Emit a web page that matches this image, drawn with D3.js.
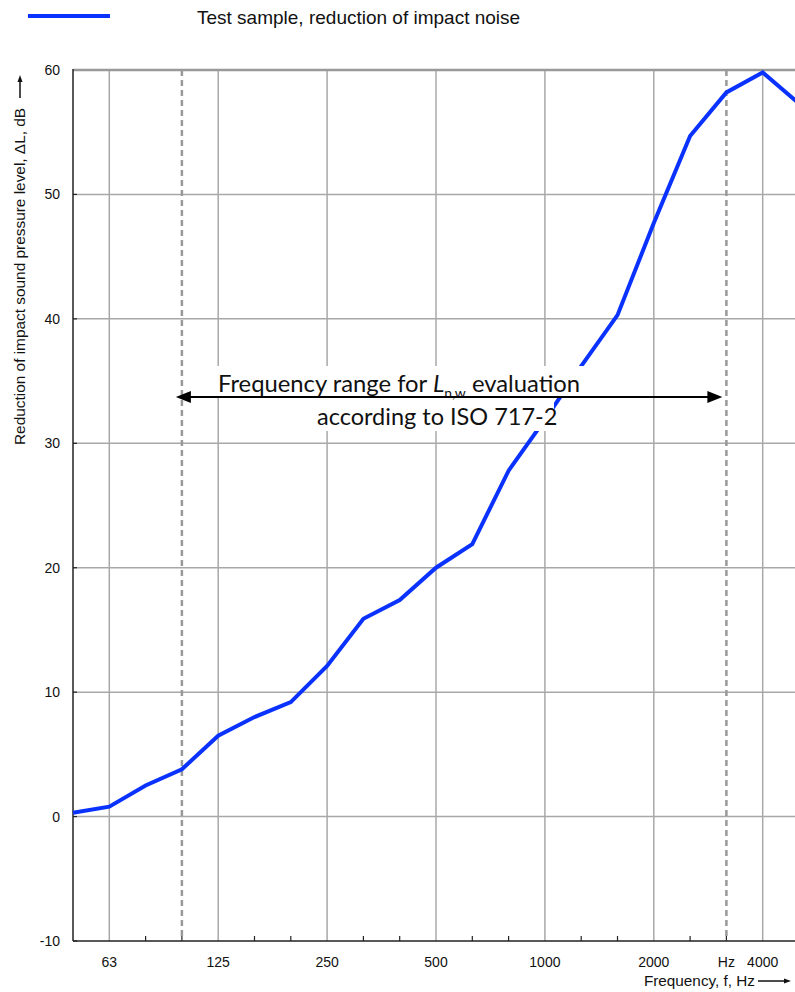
<!DOCTYPE html>
<html>
<head>
<meta charset="utf-8">
<script src="https://cdn.jsdelivr.net/npm/d3@7"></script>
<style>
  body { margin: 0; background: #fff; }
  svg { display: block; }
  text { font-family: Arial, "Liberation Sans", sans-serif; fill: #111; }
</style>
</head>
<body>
<div id="chart"></div>
<script>
// third-octave bands, Hz
var bands = ["50", "63", "80", "100", "125", "160", "200", "250", "315", "400", "500",
             "630", "800", "1000", "1250", "1600", "2000", "2500", "3150", "4000", "5000"];
// reduction of impact sound pressure level, dB
var deltaL = [0.3, 0.8, 2.5, 3.8, 6.5, 8.0, 9.2, 12.1, 15.9, 17.4, 20.0,
              21.9, 27.8, 31.9, 36.2, 40.3, 47.7, 54.7, 58.2, 59.8, 57.3];
var gridBands = ["63", "125", "250", "500", "1000", "2000", "4000"];
var tickLabels = { "63": "63", "125": "125", "250": "250", "500": "500", "1000": "1000",
                   "2000": "2000", "3150": "Hz", "4000": "4000" };
var yTicks = [-10, 0, 10, 20, 30, 40, 50, 60];
var rangeBands = ["100", "3150"]; // ISO 717-2 evaluation range

var svgWidth = 795;
var svgHeight = 992;

var margin = { top: 70, left: 73, bottom: 51 };
var plotBottom = svgHeight - margin.bottom;

var svg = d3.select("#chart")
  .append("svg")
  .attr("width", svgWidth)
  .attr("height", svgHeight);

var x = d3.scalePoint()
  .domain(bands)
  .range([margin.left, 799]);

var y = d3.scaleLinear()
  .domain([-10, 60])
  .range([plotBottom, margin.top]);

// horizontal grid
svg.append("g")
  .selectAll("line")
  .data(yTicks.filter(d => d > -10 && d < 60))
  .enter().append("line")
  .attr("x1", margin.left).attr("x2", svgWidth)
  .attr("y1", d => y(d)).attr("y2", d => y(d))
  .attr("stroke", "#a8a8a8")
  .attr("stroke-width", 1.5);

// vertical grid
svg.append("g")
  .selectAll("line")
  .data(gridBands)
  .enter().append("line")
  .attr("x1", d => x(d)).attr("x2", d => x(d))
  .attr("y1", margin.top).attr("y2", plotBottom)
  .attr("stroke", "#a8a8a8")
  .attr("stroke-width", 1.5);

// minor ticks at the bottom
svg.append("g")
  .selectAll("line")
  .data(bands.filter(d => gridBands.indexOf(d) < 0 && d !== "50"))
  .enter().append("line")
  .attr("x1", d => x(d)).attr("x2", d => x(d))
  .attr("y1", plotBottom - 5).attr("y2", plotBottom)
  .attr("stroke", "#222")
  .attr("stroke-width", 1.2);

// small y ticks inside
svg.append("g")
  .selectAll("line")
  .data(yTicks)
  .enter().append("line")
  .attr("x1", margin.left).attr("x2", margin.left + 4)
  .attr("y1", d => y(d)).attr("y2", d => y(d))
  .attr("stroke", "#222")
  .attr("stroke-width", 1.2);

// dashed range limits
svg.append("g")
  .selectAll("line")
  .data(rangeBands)
  .enter().append("line")
  .attr("x1", d => x(d)).attr("x2", d => x(d))
  .attr("y1", margin.top).attr("y2", plotBottom)
  .attr("stroke", "#999")
  .attr("stroke-width", 2.5)
  .attr("stroke-dasharray", "6,4");

// frame
svg.append("line")
  .attr("x1", margin.left).attr("x2", svgWidth)
  .attr("y1", margin.top).attr("y2", margin.top)
  .attr("stroke", "#999").attr("stroke-width", 2.5);
svg.append("line")
  .attr("x1", margin.left).attr("x2", margin.left)
  .attr("y1", margin.top - 1).attr("y2", plotBottom)
  .attr("stroke", "#222").attr("stroke-width", 1.5);
svg.append("line")
  .attr("x1", margin.left).attr("x2", svgWidth)
  .attr("y1", plotBottom).attr("y2", plotBottom)
  .attr("stroke", "#222").attr("stroke-width", 1.5);

// data line
var line = d3.line()
  .x((d, i) => x(bands[i]))
  .y(d => y(d));

svg.append("path")
  .datum(deltaL)
  .attr("d", line)
  .attr("fill", "none")
  .attr("stroke", "#0a32ff")
  .attr("stroke-width", 4)
  .attr("stroke-linejoin", "miter");

// y tick labels
svg.append("g")
  .selectAll("text")
  .data(yTicks)
  .enter().append("text")
  .attr("x", 60)
  .attr("y", d => y(d) + 5)
  .attr("text-anchor", "end")
  .attr("font-size", 14)
  .text(d => d);

// x tick labels
svg.append("g")
  .selectAll("text")
  .data(Object.keys(tickLabels))
  .enter().append("text")
  .attr("x", d => x(d))
  .attr("y", 967)
  .attr("text-anchor", "middle")
  .attr("font-size", 14)
  .text(d => tickLabels[d]);

// axis titles
svg.append("text")
  .attr("x", 755)
  .attr("y", 986)
  .attr("text-anchor", "end")
  .attr("font-size", 15.3)
  .text("Frequency, f, Hz");
svg.append("line")
  .attr("x1", 758).attr("x2", 786)
  .attr("y1", 981).attr("y2", 981)
  .attr("stroke", "#111").attr("stroke-width", 1.5);
svg.append("path")
  .attr("d", "M791,981 L784,978.5 L784,983.5 Z")
  .attr("fill", "#111");

svg.append("text")
  .attr("transform", "translate(25,445) rotate(-90)")
  .attr("text-anchor", "start")
  .attr("font-size", 15.4)
  .text("Reduction of impact sound pressure level, \u0394L, dB");
svg.append("line")
  .attr("x1", 20).attr("x2", 20)
  .attr("y1", 98).attr("y2", 80)
  .attr("stroke", "#111").attr("stroke-width", 1.5);
svg.append("path")
  .attr("d", "M20,75 L17.5,82 L22.5,82 Z")
  .attr("fill", "#111");

// legend
svg.append("line")
  .attr("x1", 28).attr("x2", 110)
  .attr("y1", 16).attr("y2", 16)
  .attr("stroke", "#0a32ff").attr("stroke-width", 4);
svg.append("text")
  .attr("x", 197)
  .attr("y", 24)
  .attr("font-size", 19)
  .text("Test sample, reduction of impact noise");

// annotation with white boxes
var note = svg.append("g");
note.append("rect")
  .attr("x", 214).attr("y", 366).attr("width", 374).attr("height", 31)
  .attr("fill", "#fff");
note.append("rect")
  .attr("x", 312).attr("y", 398).attr("width", 242).attr("height", 33)
  .attr("fill", "#fff");

var t1 = note.append("text")
  .attr("x", 218).attr("y", 392)
  .attr("font-size", 23.8)
  .style("font-family", "Lato, 'Open Sans', sans-serif");
t1.append("tspan").text("Frequency range for ");
t1.append("tspan").attr("font-style", "italic").text("L");
t1.append("tspan").attr("font-size", 14).attr("dy", 6).text("n,w");
t1.append("tspan").attr("dy", -6).text(" evaluation");

note.append("text")
  .attr("x", 317).attr("y", 425)
  .attr("font-size", 23.5)
  .style("font-family", "Lato, 'Open Sans', sans-serif")
  .text("according to ISO 717-2");

var arrowY = 397;
var ax1 = x(rangeBands[0]) - 6, ax2 = x(rangeBands[1]) - 4;
note.append("line")
  .attr("x1", ax1 + 10).attr("x2", ax2 - 10)
  .attr("y1", arrowY).attr("y2", arrowY)
  .attr("stroke", "#000").attr("stroke-width", 2.2);
note.append("path")
  .attr("d", `M${ax1},${arrowY} L${ax1 + 15},${arrowY - 6} L${ax1 + 15},${arrowY + 6} Z`)
  .attr("fill", "#000");
note.append("path")
  .attr("d", `M${ax2},${arrowY} L${ax2 - 15},${arrowY - 6} L${ax2 - 15},${arrowY + 6} Z`)
  .attr("fill", "#000");
</script>
</body>
</html>
